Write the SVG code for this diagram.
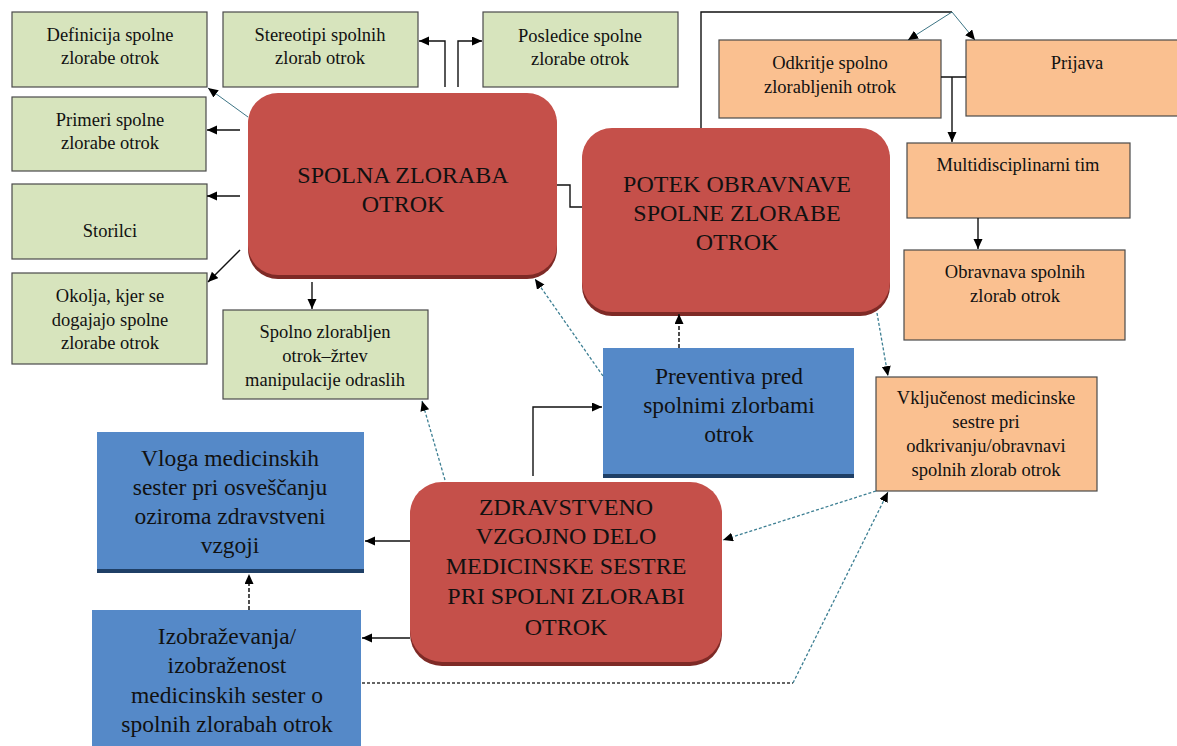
<svg xmlns="http://www.w3.org/2000/svg" width="1177" height="746" viewBox="0 0 1177 746" font-family="'Liberation Serif', 'DejaVu Serif', serif">
<defs>
<style>
.g{fill:#d7e4bd;stroke:#4a4a4a;stroke-width:1.2}
.o{fill:#fac090;stroke:#4a4a4a;stroke-width:1.2}
.b{fill:#5589c8}
.bs{fill:#1f3f66}
.r{fill:#c5504a}
.rs{fill:#7e2a26}
text{font-family:'Liberation Serif','DejaVu Serif',serif;fill:#111;text-anchor:middle}
.s{font-size:18.5px}
.L{font-size:24px}
.M{font-size:23.5px}
.c{fill:none;stroke:#111;stroke-width:1.4}
.ct{fill:none;stroke:#3d7585;stroke-width:1}
.dd{fill:none;stroke:#222;stroke-width:1.6;stroke-dasharray:4 2}
.dt{fill:none;stroke:#3d7f93;stroke-width:1.3;stroke-dasharray:3 2}
.dg{fill:none;stroke:#333;stroke-width:1.3;stroke-dasharray:3 2}
</style>
<marker id="a" markerUnits="userSpaceOnUse" markerWidth="12" markerHeight="10" refX="10" refY="4.5" orient="auto">
<path d="M0,0 L10,4.5 L0,9 z" fill="#000"/>
</marker>
</defs>
<rect width="1177" height="746" fill="#fff"/>

<g id="n-definicija"><rect class="g" x="12" y="12" width="195" height="75"/><text class="s" x="110" y="41">Definicija spolne</text><text class="s" x="110" y="64">zlorabe otrok</text></g>
<g id="n-stereotipi"><rect class="g" x="223" y="12" width="195" height="75"/><text class="s" x="320" y="41">Stereotipi spolnih</text><text class="s" x="320" y="64">zlorab otrok</text></g>
<g id="n-posledice"><rect class="g" x="483" y="12" width="195" height="75"/><text class="s" x="580" y="42">Posledice spolne</text><text class="s" x="580" y="65">zlorabe otrok</text></g>
<g id="n-primeri"><rect class="g" x="12" y="97" width="194" height="74"/><text class="s" x="110" y="126">Primeri spolne</text><text class="s" x="110" y="149">zlorabe otrok</text></g>
<g id="n-storilci"><rect class="g" x="12" y="184" width="195" height="75"/><text class="s" x="110" y="237">Storilci</text></g>
<g id="n-okolja"><rect class="g" x="12" y="273" width="195" height="91"/><text class="s" x="110" y="302">Okolja, kjer se</text><text class="s" x="110" y="326">dogajajo spolne</text><text class="s" x="110" y="349">zlorabe otrok</text></g>
<g id="n-spolno-zlorabljen"><rect class="g" x="223" y="310" width="205" height="89"/><text class="s" x="325" y="338">Spolno zlorabljen</text><text class="s" x="325" y="362">otrok–žrtev</text><text class="s" x="325" y="386">manipulacije odraslih</text></g>

<g id="n-spolna-zloraba"><rect class="rs" x="248" y="96" width="309" height="183" rx="30"/><rect class="r" x="248" y="93" width="309" height="182" rx="30"/><text class="L" x="403" y="183">SPOLNA ZLORABA</text><text class="L" x="403" y="212">OTROK</text></g>
<g id="n-potek"><rect class="rs" x="582" y="131" width="308" height="185" rx="30"/><rect class="r" x="582" y="128" width="308" height="184" rx="30"/><text class="L" x="737" y="192">POTEK OBRAVNAVE</text><text class="L" x="737" y="221">SPOLNE ZLORABE</text><text class="L" x="737" y="250">OTROK</text></g>

<g id="n-odkritje"><rect class="o" x="719" y="40" width="222" height="78"/><text class="s" x="830" y="69">Odkritje spolno</text><text class="s" x="830" y="93">zlorabljenih otrok</text></g>
<g id="n-prijava"><rect class="o" x="966" y="40" width="222" height="76"/><text class="s" x="1077" y="69">Prijava</text></g>
<g id="n-multi"><rect class="o" x="907" y="143" width="223" height="75"/><text class="s" x="1018" y="171">Multidisciplinarni tim</text></g>
<g id="n-obravnava"><rect class="o" x="904" y="250" width="221" height="90"/><text class="s" x="1015" y="278">Obravnava spolnih</text><text class="s" x="1015" y="302">zlorab otrok</text></g>
<g id="n-vkljucenost"><rect class="o" x="876" y="377" width="221" height="114"/><text class="s" x="986" y="404">Vključenost medicinske</text><text class="s" x="986" y="428">sestre pri</text><text class="s" x="986" y="452">odkrivanju/obravnavi</text><text class="s" x="986" y="476">spolnih zlorab otrok</text></g>

<g id="n-preventiva"><rect class="b" x="603" y="348" width="251" height="130"/><rect class="bs" x="603" y="474" width="251" height="4"/><text class="M" x="729" y="384">Preventiva pred</text><text class="M" x="729" y="413">spolnimi zlorbami</text><text class="M" x="729" y="442">otrok</text></g>
<g id="n-vloga"><rect class="b" x="97" y="432" width="267" height="141"/><rect class="bs" x="97" y="569" width="267" height="4"/><text class="M" x="230" y="466">Vloga medicinskih</text><text class="M" x="230" y="495">sester pri osveščanju</text><text class="M" x="230" y="524">oziroma zdravstveni</text><text class="M" x="230" y="553">vzgoji</text></g>
<g id="n-izobrazevanja"><rect class="b" x="92" y="610" width="269" height="140"/><text class="M" x="227" y="644">Izobraževanja/</text><text class="M" x="227" y="673">izobraženost</text><text class="M" x="227" y="703">medicinskih sester o</text><text class="M" x="227" y="732">spolnih zlorabah otrok</text></g>

<g id="n-zdravstveno"><rect class="rs" x="410" y="485" width="312" height="181" rx="32"/><rect class="r" x="410" y="482" width="312" height="180" rx="32"/><text class="L" x="566" y="515">ZDRAVSTVENO</text><text class="L" x="566" y="544">VZGOJNO DELO</text><text class="L" x="566" y="574">MEDICINSKE SESTRE</text><text class="L" x="566" y="604">PRI SPOLNI ZLORABI</text><text class="L" x="566" y="635">OTROK</text></g>

<g id="connectors">
<path class="ct" d="M248,117 L208,88" marker-end="url(#a)"/>
<path class="c" d="M240,130 L207,130" marker-end="url(#a)"/>
<path class="c" d="M240,196 L207,196" marker-end="url(#a)"/>
<path class="c" d="M240,250 L208,282" marker-end="url(#a)"/>
<path class="c" d="M312,282 L312,309" marker-end="url(#a)"/>
<path class="c" d="M445,87 L445,41 L419,41" marker-end="url(#a)"/>
<path class="c" d="M458,87 L458,41 L482,41" marker-end="url(#a)"/>
<path class="c" d="M557,185 L570,185 L570,207 L582,207"/>
<path class="c" d="M701,128 L701,12 L952,12"/>
<path class="ct" d="M952,12 L908,40" marker-end="url(#a)"/>
<path class="ct" d="M952,12 L975,40" marker-end="url(#a)"/>
<path class="c" d="M941,77 L966,77 M952,77 L952,142" marker-end="url(#a)"/>
<path class="c" d="M978,218 L978,249" marker-end="url(#a)"/>
<path class="dt" d="M877,313 L888,376" marker-end="url(#a)"/>
<path class="dd" d="M679,348 L679,314" marker-end="url(#a)"/>
<path class="dt" d="M603,376 L535,279" marker-end="url(#a)"/>
<path class="c" d="M533,476 L533,407 L602,407" marker-end="url(#a)"/>
<path class="dt" d="M445,480 L422,401" marker-end="url(#a)"/>
<path class="c" d="M410,541 L365,541" marker-end="url(#a)"/>
<path class="c" d="M410,638 L362,638" marker-end="url(#a)"/>
<path class="dd" d="M249,610 L249,574" marker-end="url(#a)"/>
<path class="dg" d="M362,683 L793,683"/>
<path class="dt" d="M793,683 L888,492" marker-end="url(#a)"/>
<path class="dt" d="M876,491 L723,540" marker-end="url(#a)"/>
</g>
</svg>
